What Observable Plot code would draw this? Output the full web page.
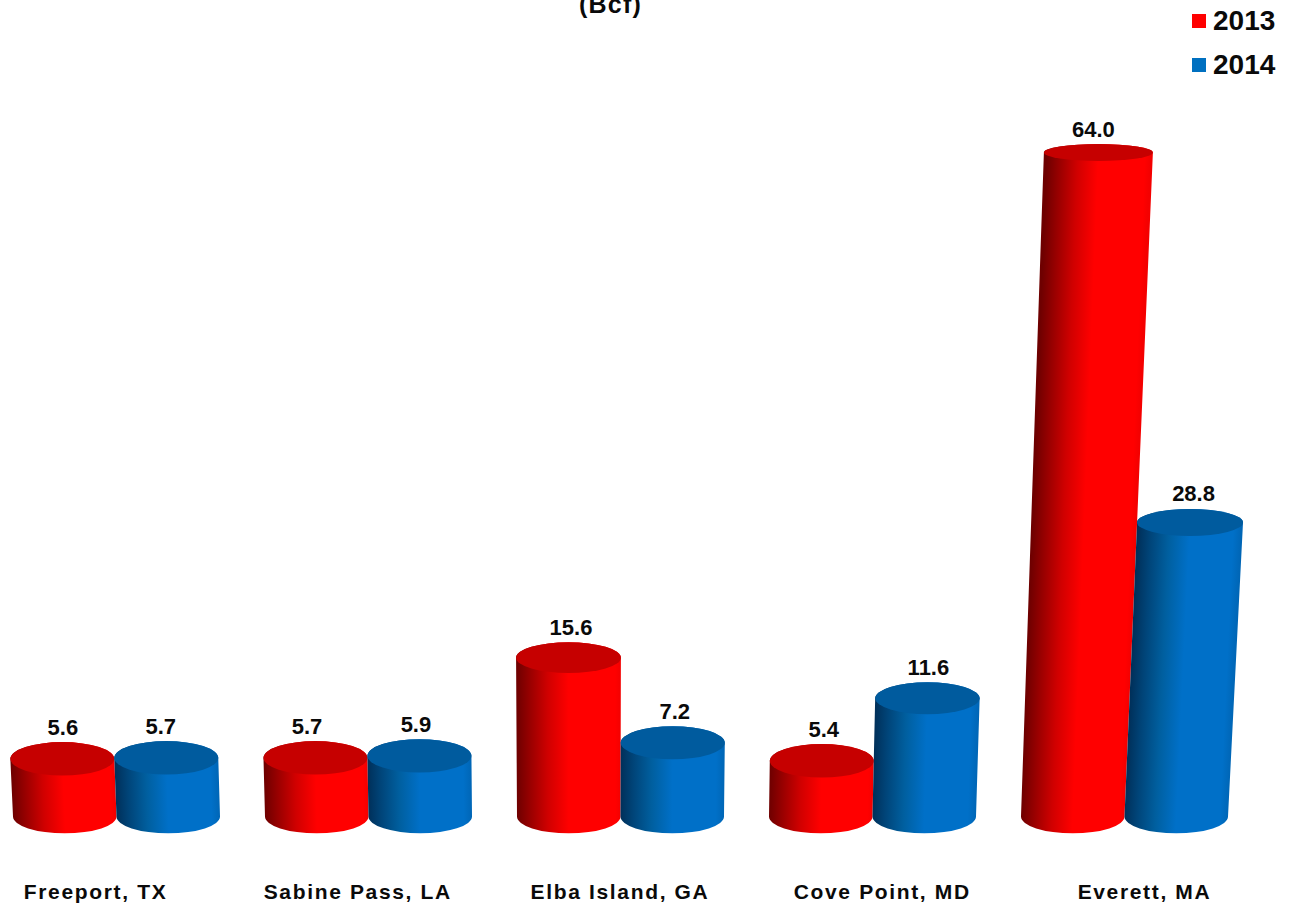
<!DOCTYPE html>
<html>
<head>
<meta charset="utf-8">
<script src="https://cdn.jsdelivr.net/npm/d3@7"></script>
<script src="https://cdn.jsdelivr.net/npm/@observablehq/plot@0.6"></script>
<style>
  html, body { margin: 0; padding: 0; background: #fff; }
  #wrap { position: relative; width: 1294px; height: 905px; overflow: hidden; font-family: "Liberation Sans", Arial, sans-serif; font-weight: bold; color: #0a0a0a; }
  #wrap svg { display: block; }
  #unit { position: absolute; left: 579px; top: -10px; font-size: 25px; line-height: 28px; letter-spacing: 1.2px; }
  #legend { position: absolute; left: 1192px; top: -1px; }
  .item { display: flex; align-items: center; height: 44px; font-size: 28px; }
  .swatch { width: 14px; height: 14px; margin-right: 7px; }
</style>
</head>
<body>
<div id="wrap">
  <div id="unit">(Bcf)</div>
  <div id="legend"></div>
</div>
<script>
// Data
const sites = ["Freeport, TX", "Sabine Pass, LA", "Elba Island, GA", "Cove Point, MD", "Everett, MA"];
const years = ["2013", "2014"];
const values2013 = [5.6, 5.7, 15.6, 5.4, 64.0];
const values2014 = [5.7, 5.9, 7.2, 11.6, 28.8];

// Styles
const sideStops = {
  "2013": [["0%", "#6e0000"], ["12%", "#960000"], ["30%", "#d00000"], ["50%", "#ff0000"], ["95%", "#ff0000"], ["100%", "#f40000"]],
  "2014": [["0%", "#00305a"], ["12%", "#004478"], ["30%", "#005f9f"], ["50%", "#0070c8"], ["92%", "#0070c8"], ["100%", "#0066b6"]]
};
const topFill = { "2013": "#c60000", "2014": "#005b9e" };
const swatchFill = { "2013": "#ff0000", "2014": "#0070c0" };

// 3-D projection of the source chart
const vanishX = 590, spreadK = 8e-5, riseK = 5.5e-5;
const labelSpread = 1.0406, labelCentre = 541.4;
const labelNudge = [0, -6, -9, -4, 2, 1.5, 1.5, 0.5, -5.5, 3];

const rows = sites.flatMap((site, i) => [
  { site, year: years[0], value: values2013[i] },
  { site, year: years[1], value: values2014[i] }
]);

function bandWidth(scales) {
  const bw = scales.x.bandwidth;
  return typeof bw === "function" ? bw() : bw;
}

function project(d, scales) {
  const w = bandWidth(scales);
  const rx = w / 4;
  const xb = scales.x(d.site) + (d.year === years[0] ? w / 4 : 3 * w / 4);
  const yb = scales.y(0);
  const h0 = yb - scales.y(d.value);
  const h = h0 * (1 + riseK * h0) + 1.5;
  const s = 1 + spreadK * h;
  return {
    xb, yb, rx, ryb: 16.8,
    xt: vanishX + (xb - vanishX) * s,
    yt: yb - h,
    rxt: rx * s,
    ryt: 17.5 - 9 * (h / 663)
  };
}

function renderCylinders(index, scales, values, dimensions, context) {
  const g = d3.create("svg:g");
  const defs = g.append("defs");
  for (const i of index) {
    const d = rows[i];
    const p = project(d, scales);
    const dx = p.xt - p.xb, dy = p.yb - p.yt;
    const len = Math.hypot(dx, dy);
    const nx = dy / len, ny = dx / len;
    const id = "side-" + i;
    const x1 = p.xb - p.rx, y1 = p.yb;
    const grad = defs.append("linearGradient").attr("id", id)
      .attr("gradientUnits", "userSpaceOnUse")
      .attr("x1", x1).attr("y1", y1)
      .attr("x2", x1 + nx * 2 * p.rx).attr("y2", y1 + ny * 2 * p.rx);
    for (const [o, c] of sideStops[d.year]) grad.append("stop").attr("offset", o).attr("stop-color", c);
    g.append("path")
      .attr("fill", `url(#${id})`)
      .attr("d", `M${p.xb - p.rx},${p.yb} A${p.rx},${p.ryb} 0 0 0 ${p.xb + p.rx},${p.yb} L${p.xt + p.rxt},${p.yt} A${p.rxt},${p.ryt} 0 0 0 ${p.xt - p.rxt},${p.yt} Z`);
    g.append("ellipse")
      .attr("cx", p.xt).attr("cy", p.yt).attr("rx", p.rxt).attr("ry", p.ryt)
      .attr("fill", topFill[d.year]);
  }
  return g.node();
}

function renderValueLabels(index, scales, values, dimensions, context, next) {
  const x = new Float64Array(rows.length), y = new Float64Array(rows.length);
  const half = bandWidth(scales) / 2; // Plot re-adds half a band when it places the text
  for (const i of index) {
    const p = project(rows[i], scales);
    x[i] = p.xt + labelNudge[i] - half;
    y[i] = p.yt - p.ryt - 15;
  }
  return next(index, scales, { ...values, x, y }, dimensions, context);
}

function renderSiteLabels(index, scales, values, dimensions, context, next) {
  const x = Float64Array.from(values.x, (v) => labelCentre + (v - labelCentre) * labelSpread);
  const node = next(index, scales, { ...values, x }, dimensions, context);
  node.setAttribute("letter-spacing", "1.65");
  return node;
}

const chart = Plot.plot({
  width: 1294,
  height: 905,
  margin: 0,
  style: { background: "transparent", fontFamily: '"Liberation Sans", Arial, sans-serif', overflow: "visible" },
  x: { type: "band", domain: sites, range: [11.75, 1228.75], paddingInner: 0.18, paddingOuter: 0, axis: null },
  y: { type: "linear", domain: [0, 64], range: [816.5, 176.5], axis: null },
  marks: [
    Plot.barY(rows, { x: "site", y1: 0, y2: "value", render: renderCylinders }),
    Plot.text(rows, {
      x: "site", y: "value", text: (d) => d.value.toFixed(1),
      fontSize: 22, fontWeight: "bold", fill: "#0a0a0a", render: renderValueLabels
    }),
    Plot.text(sites, {
      x: (d) => d, text: (d) => d, frameAnchor: "bottom", dy: -13, lineAnchor: "middle",
      fontSize: 21, fontWeight: "bold", fill: "#0a0a0a", render: renderSiteLabels
    })
  ]
});
document.getElementById("wrap").prepend(chart);

const legend = d3.select("#legend");
for (const y of years) {
  const item = legend.append("div").attr("class", "item");
  item.append("div").attr("class", "swatch").style("background", swatchFill[y]);
  item.append("span").text(y);
}
</script>
</body>
</html>
